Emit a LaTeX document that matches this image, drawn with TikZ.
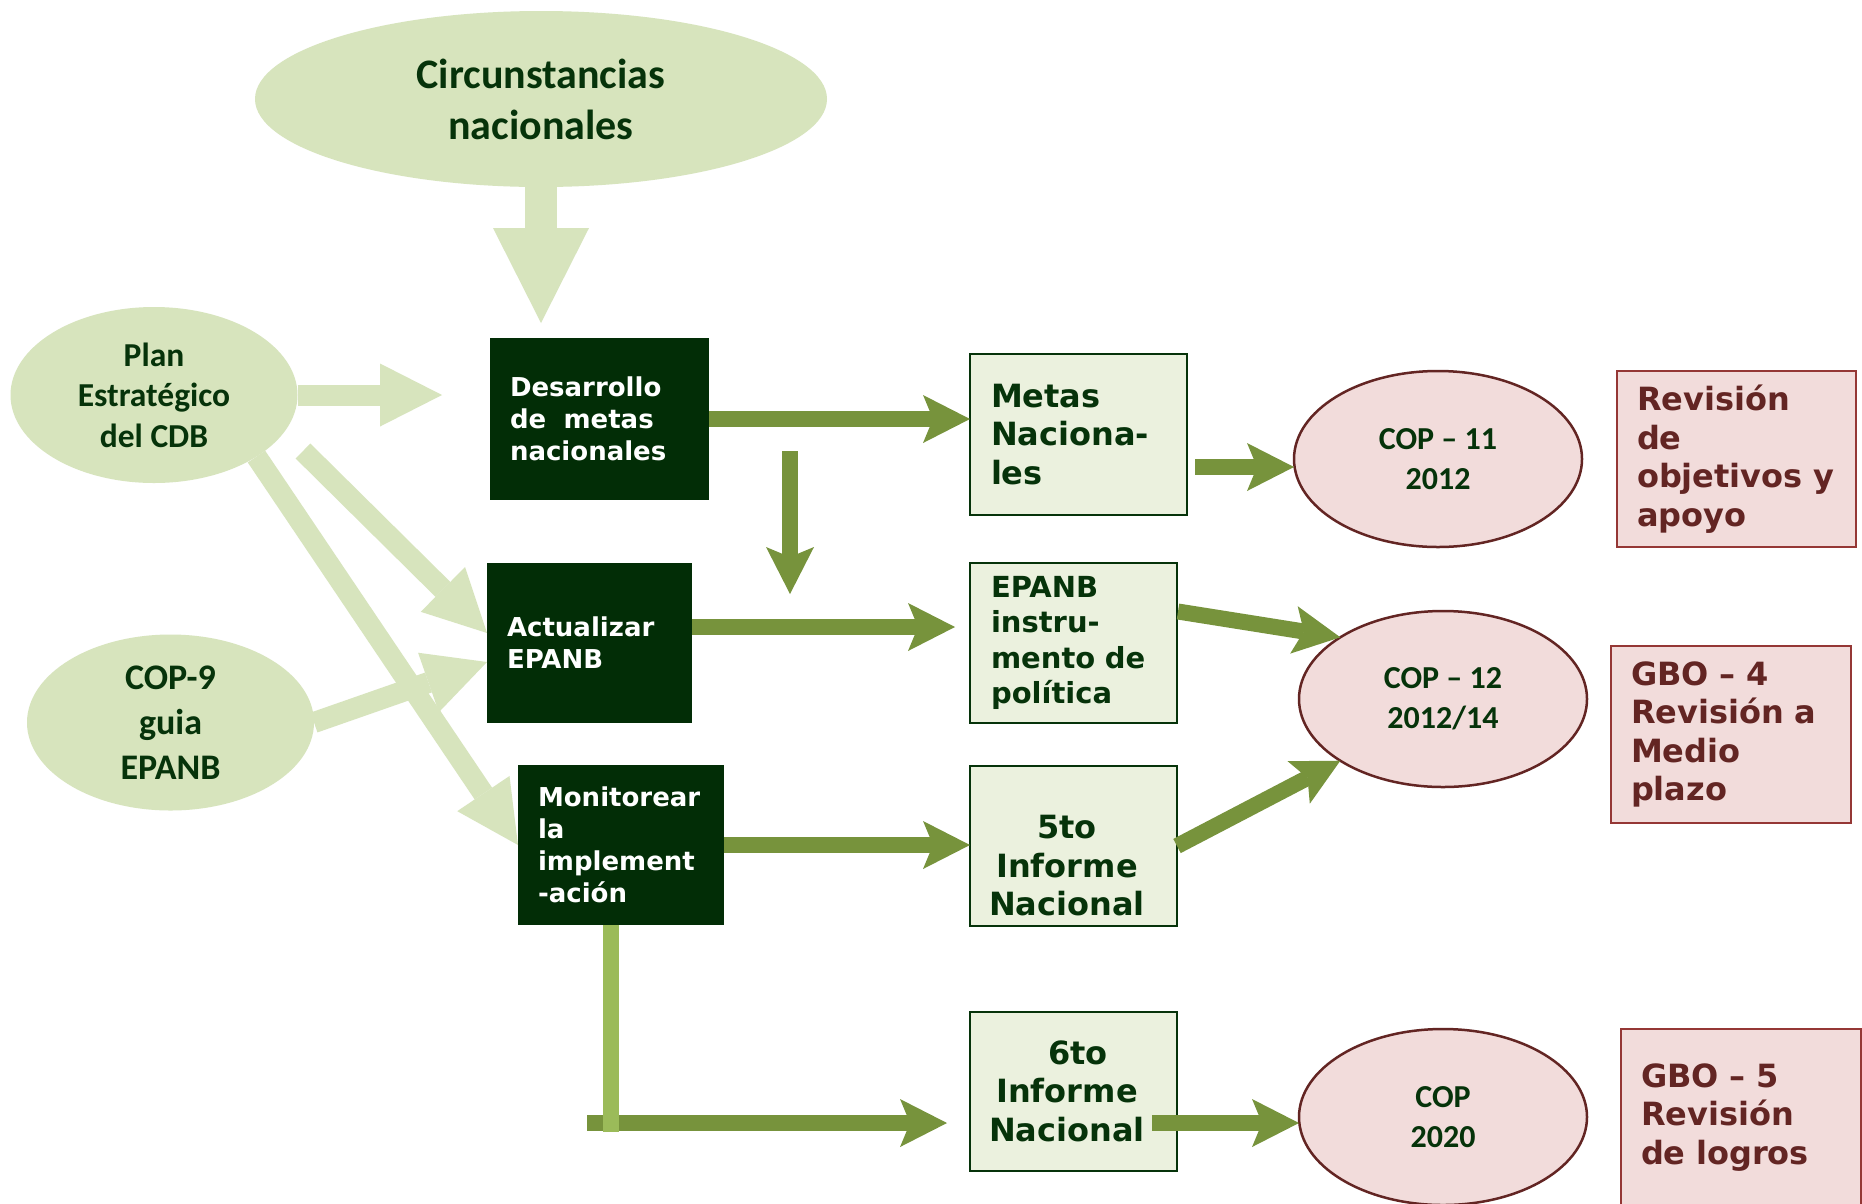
\documentclass[tikz,border=0pt]{standalone}
\usepackage{fontspec}
\newfontfamily\calib{Carlito}
\newfontfamily\verd{DejaVu Sans}
\usetikzlibrary{shapes.geometric,arrows.meta,calc}
\definecolor{lightg}{HTML}{D7E4BD}
\definecolor{boxdark}{HTML}{022D06}
\definecolor{txtdark}{HTML}{06330A}
\definecolor{arrg}{HTML}{77933C}
\definecolor{lineg}{HTML}{9BBB59}
\definecolor{boxlight}{HTML}{EBF1DE}
\definecolor{pinkf}{HTML}{F2DCDB}
\definecolor{redtxt}{HTML}{632523}
\definecolor{redline}{HTML}{953735}
\definecolor{ellred}{HTML}{632523}
\begin{document}
\begin{tikzpicture}[x=1pt,y=-1pt,
 ellg/.style={ellipse, fill=lightg, inner sep=0pt, outer sep=0pt, minimum width=287pt, minimum height=176pt, align=center, text=txtdark},
 ellp/.style={ellipse, fill=pinkf, draw=ellred, line width=2.5pt, inner sep=0pt, outer sep=0pt, minimum width=288pt, minimum height=176pt, align=center, text=txtdark, font=\calib\bfseries\fontsize{32}{40}\selectfont},
 dbox/.style={rectangle, fill=boxdark, inner xsep=20pt, inner ysep=0pt, outer sep=0pt, align=left, text=white, font=\verd\bfseries\fontsize{26}{32}\selectfont},
 lbox/.style={rectangle, fill=boxlight, draw=txtdark, line width=2.5pt, inner xsep=21pt, inner ysep=0pt, outer sep=0pt, align=left, text=txtdark, font=\verd\bfseries\fontsize{32}{38.5}\selectfont},
 ltext/.style={text=txtdark, align=center, inner sep=0pt, font=\verd\bfseries\fontsize{32}{38.5}\selectfont},
 pbox/.style={rectangle, fill=pinkf, draw=redline, line width=2.5pt, inner xsep=20pt, inner ysep=0pt, outer sep=0pt, align=left, text=redtxt, font=\verd\bfseries\fontsize{32}{38.5}\selectfont},
 darrow/.style={draw=arrg, line width=16pt, -{Stealth[length=47pt, width=48pt, inset=10pt, line width=0pt]}},
 larrow/.style={draw=lightg, line width=21pt, -{Triangle[length=62pt, width=63pt, line width=0pt]}},
 bigarrow/.style={draw=lightg, line width=32pt, -{Triangle[length=95pt, width=96pt, line width=0pt]}},
 vline/.style={draw=lineg, line width=16pt}
]
\clip (0,0) rectangle (1862,1203);
\fill[white] (0,0) rectangle (1862,1203);

% light green ellipses
\node[ellg, minimum width=572pt, minimum height=176pt, font=\calib\bfseries\fontsize{42}{51}\selectfont] (circ) at (541,99) {Circunstancias\\nacionales};
\node[ellg, font=\calib\bfseries\fontsize{33.5}{40.5}\selectfont] (plan) at (154,395) {Plan\\Estratégico\\del~CDB};
\node[ellg, font=\calib\bfseries\fontsize{36}{45}\selectfont] (cop9) at (170.5,722.5) {COP-9\\guia\\EPANB};

% dark boxes
\node[dbox, text width=179pt, minimum height=162pt] (des) at (599.5,419) {Desarrollo\\de~~metas\\nacionales};
\node[dbox, text width=165pt, minimum height=160pt] (act) at (589.5,643) {Actualizar\\EPANB};
\node[dbox, text width=166pt, minimum height=160pt] (mon) at (621,845) {Monitorear\\la\\implement\\-ación};

% light boxes
\node[lbox, text width=175pt, minimum height=161pt] (metas) at (1078.5,434.5) {Metas\\Naciona-\\les};
\node[lbox, text width=165pt, minimum height=160pt, font=\verd\bfseries\fontsize{29}{35.5}\selectfont] (epanb) at (1073.5,643) {EPANB\\instru-\\mento~de\\política};
\node[lbox, minimum width=207pt, minimum height=160pt] (cinco) at (1073.5,846) {};
\node[ltext] (cincot) at (1067,866) {5to\\Informe\\Nacional};
\node[lbox, minimum width=207pt, minimum height=159pt] (seis) at (1073.5,1091.5) {};
\node[ltext] (seist) at (1067,1091) {\hspace*{22pt}6to\\Informe\\Nacional};

% pink boxes
\node[pbox, text width=199pt, minimum height=176pt] (rev) at (1736.5,459) {Revisión\\de\\objetivos~y\\apoyo};
\node[pbox, text width=200pt, minimum height=177pt] (gbo4) at (1731,734.5) {GBO~–~4\\Revisión~a\\Medio\\plazo};
\node[pbox, text width=200pt, minimum height=177pt] (gbo5) at (1741,1117.5) {GBO~–~5\\Revisión\\de~logros};

% COP ellipses
\node[ellp] (cop11) at (1438,459) {COP~–~11\\2012};
\node[ellp] (cop12) at (1443,699) {COP~–~12\\2012/14};
\node[ellp] (cop20) at (1443,1117) {COP\\2020};

% light arrows
\draw[bigarrow, shorten >=15pt] (circ.south) -- (circ.south |- des.north);
\draw[larrow, shorten >=48pt] (plan.east) -- (plan.east -| des.west);
\coordinate (p1) at (303,451);
\draw[larrow] (p1) -- ($(act.west)+(0,-10)$);
\draw[larrow] (plan.-31) -- (mon.west);
\draw[larrow] (cop9.east) -- ($(act.west)+(0,19)$);

% dark green arrows
\draw[darrow] (des.east) -- (des.east -| metas.west);
\coordinate (d1) at (790,451);
\coordinate (d2) at (790,594);
\draw[darrow] (d1) -- (d2);
\draw[darrow] ($(act.east)+(0,-16)$) -- ($(epanb.west)+(-15,-16)$);
\draw[darrow] (mon.east) -- (mon.east -| cinco.west);
\coordinate (m2) at (1195,467);
\draw[darrow] (m2) -- (m2 -| cop11.west);
\draw[darrow] ($(epanb.east)+(1,-31.5)$) -- (cop12.149);
\draw[darrow] (cinco.east) -- (cop12.211);
\coordinate (h1) at (587,1123);
\draw[darrow] (h1) -- ($(h1 -| seis.west)+(-23,0)$);
\coordinate (v2) at (611,1132);
\draw[vline] (mon.south -| v2) -- (v2);
\coordinate (s1) at (1152,1123);
\draw[darrow] (s1) -- (s1 -| cop20.west);
\end{tikzpicture}
\end{document}
